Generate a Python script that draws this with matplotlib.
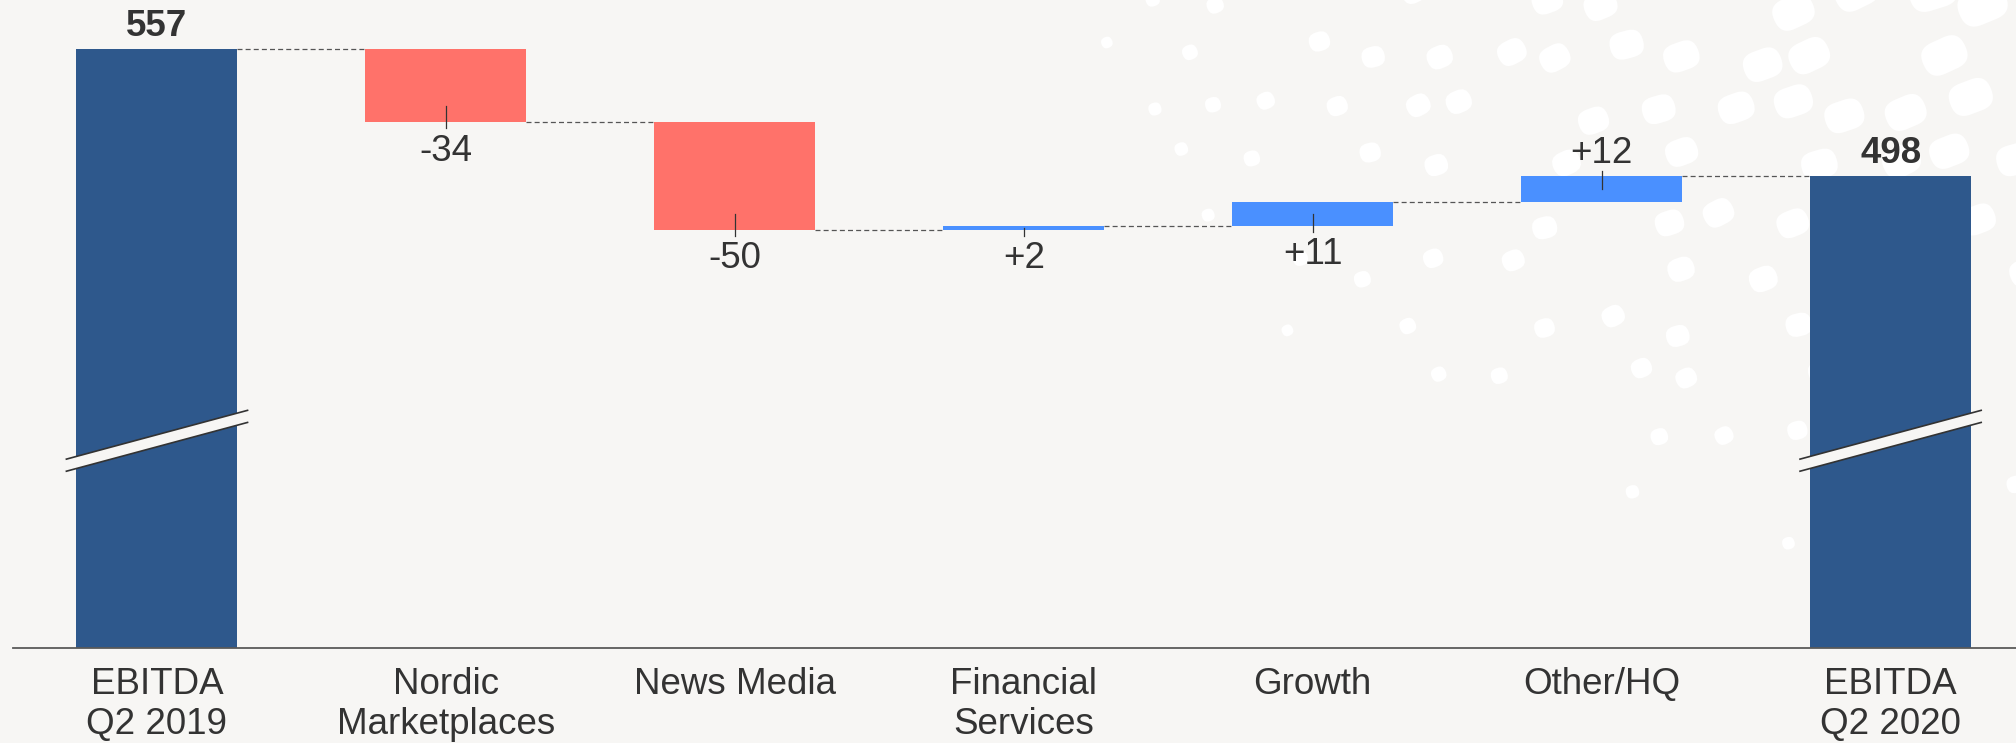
import matplotlib
matplotlib.use('Agg')
import matplotlib.pyplot as plt
from matplotlib.patches import FancyBboxPatch, Polygon
from matplotlib.transforms import Affine2D
import numpy as np

# EBITDA bridge Q2 2019 -> Q2 2020
categories = ['EBITDA\nQ2 2019', 'Nordic\nMarketplaces', 'News Media',
              'Financial\nServices', 'Growth', 'Other/HQ', 'EBITDA\nQ2 2020']
start_total = 557
changes = [-34, -50, 2, 11, 12]
end_total = 498
label_side = ['above', 'below', 'below', 'below', 'below', 'above', 'above']

BG = '#f7f6f4'
TOTAL_COLOR = '#2e588c'
NEG_COLOR = '#ff726a'
POS_COLOR = '#4a90ff'
TEXT = '#333333'

plt.rcParams['font.family'] = ['Liberation Sans', 'DejaVu Sans']

W, H = 2016, 743
fig = plt.figure(figsize=(W / 100, H / 100), dpi=100, facecolor=BG)

# background sprinkle of white capsules in the upper right
bg = fig.add_axes([0, 0, 1, 1], zorder=0)
bg.set_xlim(0, W)
bg.set_ylim(H, 0)
bg.axis('off')


def hash01(i, j, k):
    v = np.sin(i * 12.9898 + j * 78.233 + k * 37.719) * 43758.5453
    return v - np.floor(v)


step_x, step_y = 64, 54
for gy in range(0, 15):
    for gx in range(16, 34):
        px = gx * step_x + (gy % 2) * step_x / 2 + (hash01(gx, gy, 1) - 0.5) * 30
        py = gy * step_y + (hash01(gx, gy, 2) - 0.5) * 26
        d = np.hypot((W + 20 - px) / 940, (py + 40) / 620)
        if d > 1:
            continue
        t = 1 - d
        if hash01(gx, gy, 3) > 0.5 + 0.5 * t:
            continue
        s = 11 + 27 * t ** 0.8
        h = s
        w = s * (1 + 0.42 * t)
        ang = -(14 + 14 * hash01(gx, gy, 4))
        cap = FancyBboxPatch((-w / 2, -h / 2), w, h,
                             boxstyle='round,pad=0,rounding_size=%.2f' % (h / 2 * 0.95),
                             facecolor='white', edgecolor='none',
                             transform=Affine2D().rotate_deg(ang).translate(px, py) + bg.transData)
        bg.add_patch(cap)

ax = fig.add_axes([12.5 / W, 1 - 648 / H, 1 - 12.5 / W, 648 / H], zorder=1)
ax.set_facecolor('none')
ylo, yhi = 279.5, 579.7
ax.set_xlim(-0.5, 6.434)
ax.set_ylim(ylo, yhi)
ppu = 648 / (yhi - ylo)  # pixels per unit

x = np.arange(len(categories))
bw = 0.557

# bar geometry
bottoms, heights, colors, values = [], [], [], []
level = start_total
bottoms.append(0); heights.append(start_total); colors.append(TOTAL_COLOR); values.append(start_total)
for c in changes:
    lo = min(level, level + c)
    bottoms.append(lo); heights.append(abs(c))
    colors.append(POS_COLOR if c > 0 else NEG_COLOR)
    values.append(c)
    level += c
bottoms.append(0); heights.append(end_total); colors.append(TOTAL_COLOR); values.append(end_total)

ax.bar(x, heights, bottom=bottoms, width=bw, color=colors, zorder=2)

# dashed connectors between bars
levels = np.cumsum([start_total] + changes)
for i, lv in enumerate(levels):
    ax.plot([x[i] + bw / 2, x[i + 1] - bw / 2], [lv, lv], color='#555555',
            lw=0.9, ls=(0, (4, 2.5)), zorder=1)

# value labels
for i, v in enumerate(values):
    top = bottoms[i] + heights[i]
    bot = bottoms[i]
    is_total = i in (0, len(values) - 1)
    txt = str(v) if is_total else ('%+d' % v)
    weight = 'bold' if is_total else 'normal'
    if label_side[i] == 'above':
        ax.annotate(txt, (x[i], top), xytext=(0, 9.4), textcoords='offset points',
                    ha='center', va='baseline', fontsize=26.5, color=TEXT,
                    fontweight=weight)
        edge, sign = top, 1
    else:
        ax.annotate(txt, (x[i], bot), xytext=(0, -8.0), textcoords='offset points',
                    ha='center', va='top', fontsize=26.5, color=TEXT,
                    fontweight=weight)
        edge, sign = bot, -1
    if not is_total:
        inner = min(16, heights[i] * ppu / 2) / ppu
        outer = 5.7 / ppu
        ax.plot([x[i], x[i]], [edge - sign * inner, edge + sign * outer],
                color=TEXT, lw=0.9, zorder=3)

# axis break marks on the total bars
brk_mid, brk_rise, brk_gap = 375.5, 22.6, 5.6
half = bw / 2 + 0.035
for i in (0, len(values) - 1):
    xl, xr = x[i] - half, x[i] + half
    lo_l = brk_mid - brk_rise / 2 - brk_gap / 2
    lo_r = brk_mid + brk_rise / 2 - brk_gap / 2
    ax.add_patch(Polygon([(xl, lo_l), (xr, lo_r), (xr, lo_r + brk_gap), (xl, lo_l + brk_gap)],
                         closed=True, facecolor=BG, edgecolor='none', zorder=4))
    ax.plot([xl, xr], [lo_l, lo_r], color=TEXT, lw=1.2, zorder=5)
    ax.plot([xl, xr], [lo_l + brk_gap, lo_r + brk_gap], color=TEXT, lw=1.2, zorder=5)

ax.set_xticks(x)
ax.set_xticklabels(categories, fontsize=26.5, color=TEXT, linespacing=1.19)
ax.tick_params(axis='x', length=0, pad=13.7)
ax.set_yticks([])
for s in ('top', 'right', 'left'):
    ax.spines[s].set_visible(False)
ax.spines['bottom'].set_color('#5a5a5a')
ax.spines['bottom'].set_linewidth(1.3)

fig.savefig('out.png', dpi=100, facecolor=BG)
